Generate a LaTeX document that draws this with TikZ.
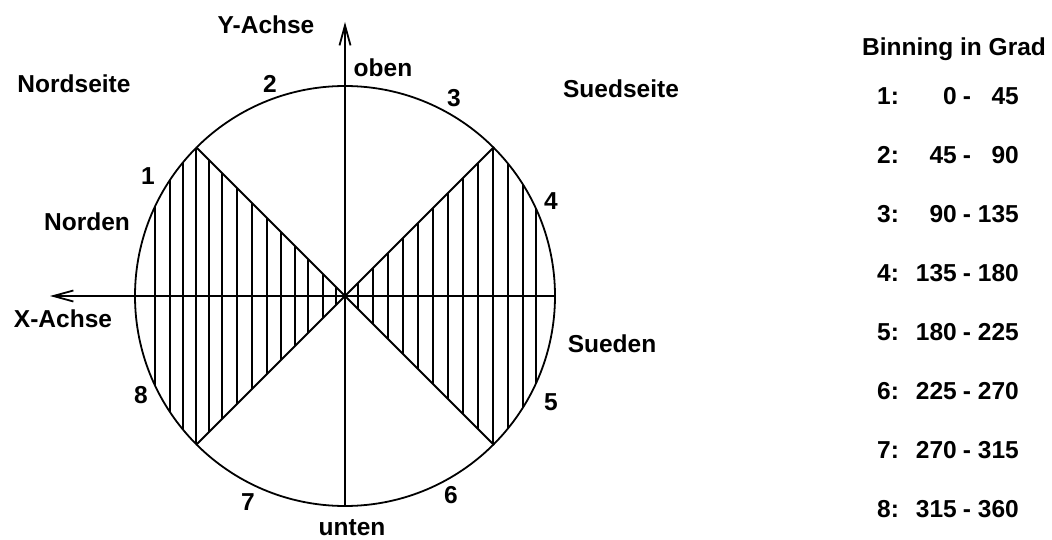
\documentclass[tikz,border=0pt]{standalone}
\usepackage{fontspec}
\setmainfont{Liberation Sans}
\usetikzlibrary{arrows.meta}
\tikzset{
  lbl/.style={inner sep=0pt, anchor=base, font=\fontsize{24.5}{28}\selectfont\bfseries},
  main/.style={line width=1.8pt, black},
  hatch/.style={line width=1.3pt, black},
  axis/.style={line width=1.8pt, -{Straight Barb[length=20pt,width=11pt,line width=1.8pt]}},
}
\begin{document}
\begin{tikzpicture}[x=1pt,y=-1pt]
\useasboundingbox (0,0) rectangle (1052,540);
% geometry
\coordinate (C) at (345,296);
\coordinate (TL) at (197,148);
\coordinate (TR) at (493,148);
\coordinate (BL) at (197,444);
\coordinate (BR) at (493,444);
\coordinate (Xr) at (556,296);
\coordinate (Xtip) at (50,296);
\coordinate (Yb) at (345,506);
\coordinate (Ytip) at (345,22);
% hatching
\begin{scope}
  \clip (C) circle[radius=210pt];
  \clip (C) -- ++(-300,-300) -- ++(0,600) -- cycle
        (C) -- ++(300,-300) -- ++(0,600) -- cycle;
  \foreach \x in {155,170,183,196,209,222,237,252,267,281,295,308,323,336}
    \draw[hatch] (\x,0) -- (\x,540);
  \foreach \x in {358,373,388,403,418,433,448,463,478,493,508,523,536}
    \draw[hatch] (\x,0) -- (\x,540);
\end{scope}
% circle and diagonals
\draw[main] (C) circle[radius=210pt];
\draw[main] (TL) -- (BR);
\draw[main] (TR) -- (BL);
% axes
\draw[axis] (Xr) -- (Xtip);
\draw[axis] (Yb) -- (Ytip);
% labels
\node[lbl] (ya) at (266,34) {Y-Achse};
\node[lbl] (ob) at (383,77) {oben};
\node[lbl] (n2) at (270,93) {2};
\node[lbl] (n3) at (454,107) {3};
\node[lbl] (n1) at (148,185) {1};
\node[lbl] (n4) at (551,210) {4};
\node[lbl] (n5) at (551,410) {5};
\node[lbl] (n8) at (141,403) {8};
\node[lbl] (n7) at (248,510) {7};
\node[lbl] (n6) at (451,503) {6};
\node[lbl] (un) at (352,535) {unten};
\node[lbl] (ns) at (74,93) {Nordseite};
\node[lbl] (ss) at (621,98) {Suedseite};
\node[lbl] (no) at (87,230) {Norden};
\node[lbl] (su) at (612,352) {Sueden};
\node[lbl] (xa) at (63,327) {X-Achse};
% table
\node[lbl] (bt) at (954,56) {Binning in Grad};
\foreach \k/\a/\b [count=\i] in {1/0/45,2/45/90,3/90/135,4/135/180,5/180/225,6/225/270,7/270/315,8/315/360}{
  \pgfmathsetmacro{\yy}{105+58.9*(\i-1)}
  \node[lbl, anchor=base west] (r\i k) at (877,\yy) {\k:};
  \node[lbl, anchor=base east] (r\i a) at (957,\yy) {\a};
  \node[lbl] (r\i d) at (967,\yy) {-};
  \node[lbl, anchor=base east] (r\i b) at (1019,\yy) {\b};
}
\end{tikzpicture}
\end{document}
